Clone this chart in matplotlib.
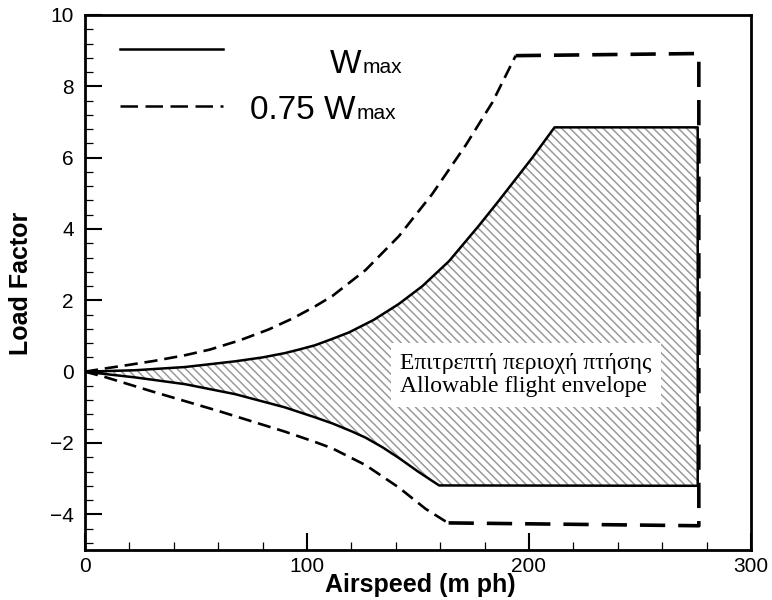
import matplotlib
matplotlib.use("Agg")
import matplotlib.pyplot as plt
from matplotlib.lines import Line2D
from matplotlib.ticker import MultipleLocator

plt.rcParams["font.family"] = ["Liberation Sans", "DejaVu Sans"]
plt.rcParams["hatch.color"] = "#9a9a9a"
plt.rcParams["hatch.linewidth"] = 1.1

# Wmax envelope (airspeed mph, load factor)
W_UP_V = [0, 22.5, 45, 67.6, 80, 90, 96.4, 103.6, 111, 118.9, 130, 141.4, 152, 164, 177.5, 186.5, 201.5, 211.5, 276]
W_UP_N = [0, 0.04, 0.13, 0.29, 0.4, 0.52, 0.62, 0.74, 0.91, 1.1, 1.45, 1.9, 2.4, 3.1, 4.1, 4.8, 6.0, 6.85, 6.85]
W_LO_V = [0, 11, 22.5, 45, 67.6, 90, 103.6, 111.4, 120, 126.4, 134, 141.4, 150, 159.5, 276]
W_LO_N = [0, -0.08, -0.16, -0.35, -0.63, -1.0, -1.28, -1.45, -1.67, -1.85, -2.12, -2.42, -2.8, -3.19, -3.2]

# 0.75 Wmax envelope
D_UP_V = [0, 9, 18.7, 31, 45, 56.3, 69.8, 82.6, 93.8, 103.6, 111.4, 126.4, 141.4, 156.4, 171.5, 183.5, 194]
D_UP_N = [0, 0.09, 0.18, 0.3, 0.46, 0.62, 0.88, 1.18, 1.5, 1.83, 2.12, 2.85, 3.8, 4.98, 6.35, 7.55, 8.86]
D_LO_V = [0, 9, 30, 60, 90, 103.6, 111.4, 126.4, 141.4, 153.5, 163.5]
D_LO_N = [0, -0.15, -0.55, -1.1, -1.68, -1.97, -2.15, -2.62, -3.25, -3.85, -4.24]
D_BOX_V = [194, 276.5, 276.5, 163.5]
D_BOX_N = [8.86, 8.92, -4.32, -4.24]

X_TICKS = [0, 100, 200, 300]
Y_TICKS = [-4, -2, 0, 2, 4, 6, 8, 10]

fig = plt.figure(figsize=(7.72, 6.0), dpi=100)
ax = fig.add_axes([85 / 772, 50 / 600, 666 / 772, 535 / 600])

# hatched allowable region
poly_v = W_UP_V + W_LO_V[::-1]
poly_n = W_UP_N + W_LO_N[::-1]
ax.fill(poly_v, poly_n, facecolor="none", edgecolor="#9a9a9a", hatch="\\\\\\\\", linewidth=0)

ax.plot(poly_v, poly_n, color="black", lw=1.8, solid_joinstyle="round")
ax.plot(D_UP_V, D_UP_N, color="black", lw=1.9, linestyle=(0, (5, 2.6)))
ax.plot(D_LO_V, D_LO_N, color="black", lw=1.9, linestyle=(0, (5, 2.6)))
ax.plot(D_BOX_V, D_BOX_N, color="black", lw=2.6, linestyle=(0, (7, 3.6)))

ax.text(142, -0.1, "Επιτρεπτή περιοχή πτήσης\nAllowable flight envelope",
        family=["Liberation Serif", "DejaVu Serif"], fontsize=17, ha="left", va="center",
        linespacing=1.15, bbox=dict(facecolor="white", edgecolor="none", pad=7))

ax.set_xlim(0, 300)
ax.set_ylim(-5, 10)
ax.set_xticks(X_TICKS)
ax.set_yticks(Y_TICKS)
ax.xaxis.set_minor_locator(MultipleLocator(20))
ax.yaxis.set_minor_locator(MultipleLocator(0.4))
ax.tick_params(which="both", direction="in", top=False, right=False, labelsize=15)
ax.tick_params(which="major", length=12.5, width=1.5)
ax.tick_params(which="minor", length=6, width=0.9)
ax.tick_params(axis="x", pad=5)
ax.tick_params(axis="y", pad=8)
for sp in ax.spines.values():
    sp.set_linewidth(2)

fig.text(420 / 772, 1 - 592 / 600, "Airspeed (m ph)", fontsize=18, fontweight="bold",
         ha="center", va="baseline")
fig.text(21 / 772, 1 - 283 / 600, "Load Factor", fontsize=18, fontweight="bold",
         rotation=90, ha="center", va="center")

# legend drawn by hand, as in the original layout
fig.add_artist(Line2D([120 / 772, 223 / 772], [1 - 49 / 600, 1 - 49 / 600],
                      color="black", lw=1.8))
fig.add_artist(Line2D([120 / 772, 223 / 772], [1 - 106 / 600, 1 - 106 / 600],
                      color="black", lw=1.8, linestyle=(0, (7, 3))))
t1 = fig.text(330 / 772, 1 - 73 / 600, "W", fontsize=24, va="baseline")
t2 = fig.text(250 / 772, 1 - 119 / 600, "0.75 W", fontsize=24, va="baseline")
renderer = fig.canvas.get_renderer()
for t, base in ((t1, 73), (t2, 119)):
    bb = t.get_window_extent(renderer)
    fig.text((bb.x1 + 1) / 772, 1 - base / 600, "max", fontsize=15, va="baseline")

fig.savefig("out.png", dpi=100)
